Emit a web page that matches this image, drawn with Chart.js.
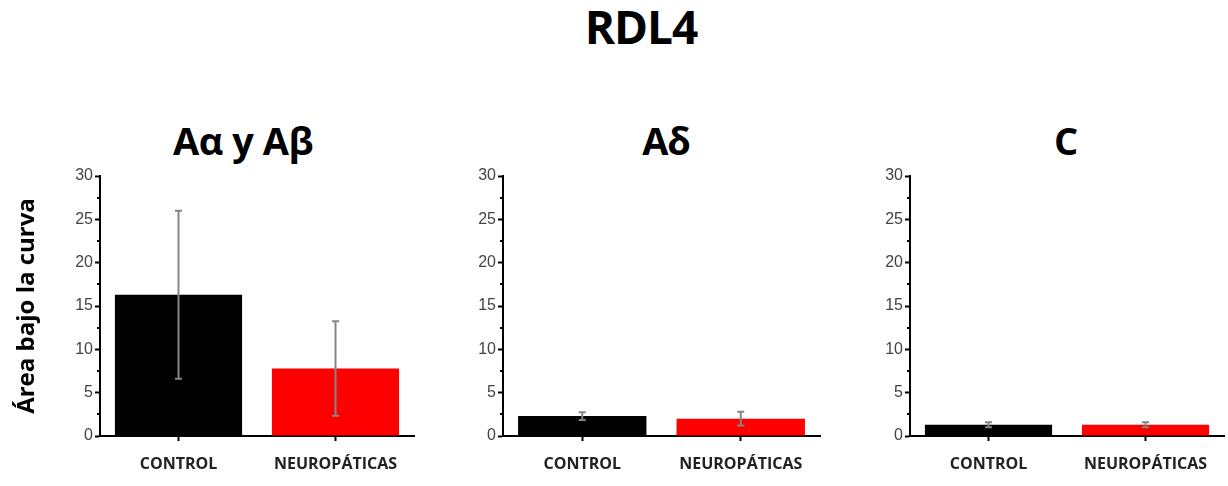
<!DOCTYPE html>
<html>
<head>
<meta charset="utf-8">
<script src="https://cdn.jsdelivr.net/npm/chart.js@4.4.0/dist/chart.umd.min.js"></script>
<style>
    body { margin: 0; width: 1228px; height: 486px; background: #fff; position: relative; overflow: hidden; font-family: "Open Sans", sans-serif; }
    .titulo { position: absolute; font-weight: bold; color: #000; text-align: center; white-space: nowrap; }
    canvas { position: absolute; }
</style>
</head>
<body>
<div class="titulo" id="titulo" style="left:541px; width:200px; top:-5px; font-size:46px; letter-spacing:-1px;">RDL4</div>
<div class="titulo" style="left:143px; width:200px; top:114px; font-size:38px; letter-spacing:-0.5px;">Aα y Aβ</div>
<div class="titulo" style="left:566px; width:200px; top:114px; font-size:38px; letter-spacing:-1px;">Aδ</div>
<div class="titulo" style="left:966px; width:200px; top:114px; font-size:38px;">C</div>

<canvas id="chart1" width="430" height="326" style="left:0; top:160px;"></canvas>
<canvas id="chart2" width="400" height="326" style="left:430px; top:160px;"></canvas>
<canvas id="chart3" width="388" height="326" style="left:840px; top:160px;"></canvas>

<script>
// datos
var categorias = ['CONTROL', 'NEUROPÁTICAS'];
var colores = ['#000000', '#ff0000'];

var valores_ab = [16.3, 7.8];
var error_ab = [9.7, 5.45];

var valores_ad = [2.3, 2.0];
var error_ad = [0.45, 0.8];

var valores_c = [1.3, 1.3];
var error_c = [0.3, 0.3];

var eje_y_titulo = 'Área bajo la curva';
var eje_y_max = 30;
var eje_y_paso = 5;

// barras de error y ticks menores con las escalas de chart.js
var pluginError = {
    id: 'barrasError',
    afterDatasetsDraw: function(chart) {
        var ctx = chart.ctx;
        var meta = chart.getDatasetMeta(0);
        var errores = chart.data.datasets[0].errores;
        var y = chart.scales.y;
        ctx.save();
        ctx.strokeStyle = '#858585';
        ctx.lineWidth = 2;
        meta.data.forEach(function(barra, i) {
            var v = chart.data.datasets[0].data[i];
            var yArriba = y.getPixelForValue(v + errores[i]);
            var yAbajo = y.getPixelForValue(v - errores[i]);
            ctx.beginPath();
            ctx.moveTo(barra.x, yArriba);
            ctx.lineTo(barra.x, yAbajo);
            ctx.moveTo(barra.x - 3.5, yArriba);
            ctx.lineTo(barra.x + 3.5, yArriba);
            ctx.moveTo(barra.x - 3.5, yAbajo);
            ctx.lineTo(barra.x + 3.5, yAbajo);
            ctx.stroke();
        });

        //ticks menores
        ctx.strokeStyle = '#000';
        ctx.lineWidth = 2;
        for (var m = eje_y_paso / 2; m < eje_y_max; m += eje_y_paso) {
            var py = Math.round(y.getPixelForValue(m));
            ctx.beginPath();
            ctx.moveTo(y.right, py);
            ctx.lineTo(y.right - 3, py);
            ctx.stroke();
        }
        ctx.restore();
    }
};

function renderChart(id, data, errores, anchoEjeY, paddingDerecha, conTitulo) {
    var ctx = document.getElementById(id).getContext('2d');
    return new Chart(ctx, {
        type: 'bar',
        data: {
            labels: categorias,
            datasets: [{
                data: data,
                errores: errores,
                backgroundColor: colores,
                borderWidth: 0,
                barPercentage: 0.81,
                categoryPercentage: 1
            }]
        },
        options: {
            responsive: false,
            animation: false,
            layout: { padding: { top: 16, right: paddingDerecha, left: 0, bottom: 0 } },
            plugins: { legend: { display: false }, tooltip: { enabled: false } },
            scales: {
                x: {
                    afterFit: function(scale) { scale.height = 50; },
                    grid: { drawOnChartArea: false, offset: false, tickLength: 5, tickColor: '#000', tickWidth: 2 },
                    border: { color: '#000', width: 2 },
                    ticks: { color: '#222', padding: 14, font: { family: 'Open Sans', size: 16, weight: 'bold' } }
                },
                y: {
                    min: 0,
                    max: eje_y_max,
                    afterFit: function(scale) { scale.width = anchoEjeY; },
                    grid: { drawOnChartArea: false, tickLength: 5, tickColor: '#000', tickWidth: 2 },
                    border: { color: '#000', width: 2 },
                    ticks: {
                        stepSize: eje_y_paso,
                        padding: 2,
                        color: '#444',
                        font: { family: 'Liberation Sans', size: 16 }
                    },
                    title: {
                        display: conTitulo,
                        text: eje_y_titulo,
                        color: '#000',
                        padding: { top: 13, bottom: 0 },
                        font: { family: 'Open Sans', size: 24, weight: 'bold' }
                    }
                }
            }
        },
        plugins: [pluginError]
    });
}

window.onload = function() {
    renderChart('chart1', valores_ab, error_ab, 100, 16, true);
    renderChart('chart2', valores_ad, error_ad, 73, 10, false);
    renderChart('chart3', valores_c, error_c, 70, 4, false);
};
</script>
</body>
</html>
